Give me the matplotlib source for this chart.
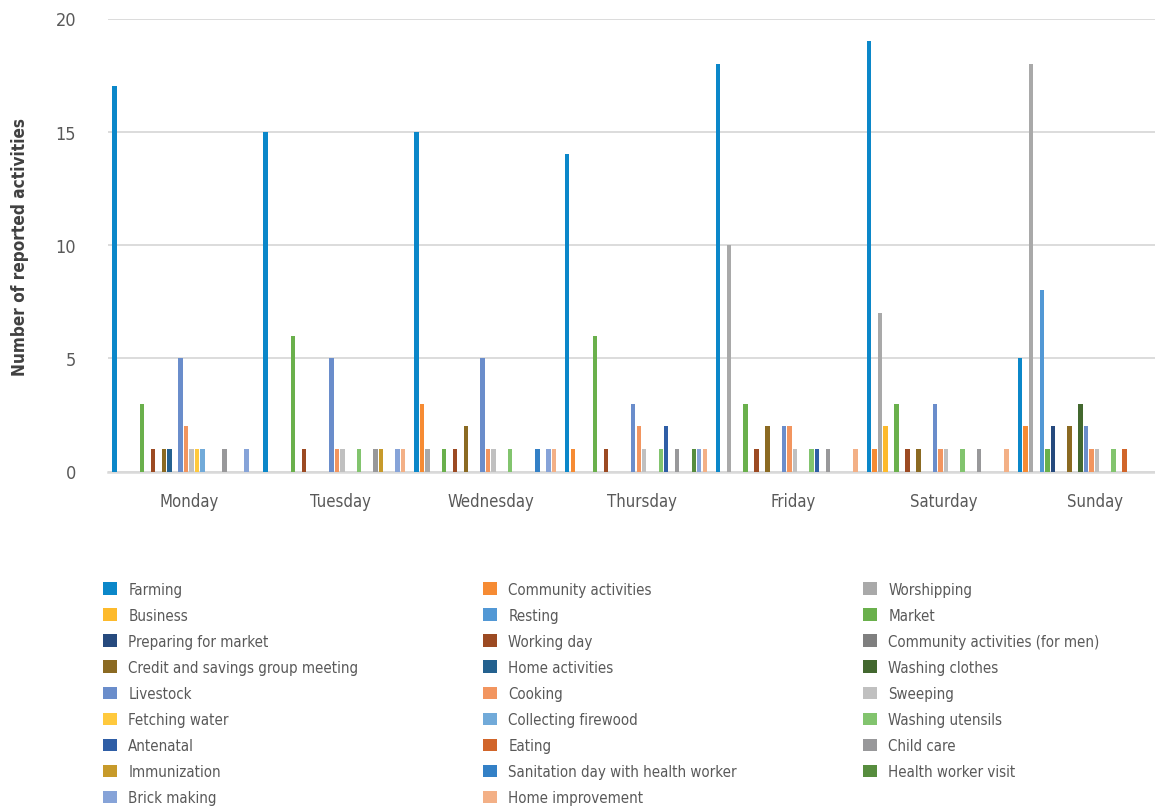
import matplotlib
matplotlib.use('Agg')
import matplotlib.pyplot as plt
import numpy as np

plt.rcParams['font.family'] = ['DejaVu Sans']
plt.rcParams['font.stretch'] = 'condensed'

days = ['Monday', 'Tuesday', 'Wednesday', 'Thursday', 'Friday', 'Saturday', 'Sunday']

farming          = [17, 15, 15, 14, 18, 19, 5]
community        = [0, 0, 3, 1, 0, 1, 2]
worshipping      = [0, 0, 1, 0, 10, 7, 18]
business         = [0, 0, 0, 0, 0, 2, 0]
resting          = [0, 0, 0, 0, 0, 0, 8]
market           = [3, 6, 1, 6, 3, 3, 1]
preparing        = [0, 0, 0, 0, 0, 0, 2]
working_day      = [1, 1, 1, 1, 1, 1, 0]
community_men    = [0, 0, 0, 0, 0, 0, 0]
credit_savings   = [1, 0, 2, 0, 2, 1, 2]
home_activities  = [1, 0, 0, 0, 0, 0, 0]
washing_clothes  = [0, 0, 0, 0, 0, 0, 3]
livestock        = [5, 5, 5, 3, 2, 3, 2]
cooking          = [2, 1, 1, 2, 2, 1, 1]
sweeping         = [1, 1, 1, 1, 1, 1, 1]
fetching_water   = [1, 0, 0, 0, 0, 0, 0]
firewood         = [1, 0, 0, 0, 0, 0, 0]
washing_utensils = [0, 1, 1, 1, 1, 1, 1]
antenatal        = [0, 0, 0, 2, 1, 0, 0]
eating           = [0, 0, 0, 0, 0, 0, 1]
child_care       = [1, 1, 0, 1, 1, 1, 0]
immunization     = [0, 1, 0, 0, 0, 0, 0]
sanitation       = [0, 0, 1, 0, 0, 0, 0]
health_visit     = [0, 0, 0, 1, 0, 0, 0]
brick_making     = [1, 1, 1, 1, 0, 0, 0]
home_improvement = [0, 1, 1, 1, 1, 1, 0]

series = [
    ('Farming', farming, '#0b87c9'),
    ('Community activities', community, '#f68b33'),
    ('Worshipping', worshipping, '#a9a9a9'),
    ('Business', business, '#fdba2c'),
    ('Resting', resting, '#5298d5'),
    ('Market', market, '#6ab04c'),
    ('Preparing for market', preparing, '#264a7e'),
    ('Working day', working_day, '#9c4a22'),
    ('Community activities (for men)', community_men, '#7f7f7f'),
    ('Credit and savings group meeting', credit_savings, '#8b6a22'),
    ('Home activities', home_activities, '#24618f'),
    ('Washing clothes', washing_clothes, '#43682f'),
    ('Livestock', livestock, '#6a8dcb'),
    ('Cooking', cooking, '#f2955f'),
    ('Sweeping', sweeping, '#c0c0c0'),
    ('Fetching water', fetching_water, '#ffc93d'),
    ('Collecting firewood', firewood, '#71aad9'),
    ('Washing utensils', washing_utensils, '#82c46e'),
    ('Antenatal', antenatal, '#2f5ea6'),
    ('Eating', eating, '#d1652a'),
    ('Child care', child_care, '#98989a'),
    ('Immunization', immunization, '#c79a2a'),
    ('Sanitation day with health worker', sanitation, '#3380c6'),
    ('Health worker visit', health_visit, '#578d3e'),
    ('Brick making', brick_making, '#86a3d8'),
    ('Home improvement', home_improvement, '#f3b086'),
]

W, H = 1155, 812
fig = plt.figure(figsize=(W / 100, H / 100), dpi=100)
ax = fig.add_axes([108 / W, 1 - 472.5 / H, 1056 / W, 453 / H])

x = np.arange(len(days))
n = len(series)
slot = 5.5 / 150.9
handles = []
for k, (lab, vals, col) in enumerate(series):
    off = (k - (n - 1) / 2) * slot
    b = ax.bar(x + off, vals, width=slot * 0.8, color=col, label=lab, zorder=3, linewidth=0)
    handles.append(b)

ax.set_xlim(-0.5, len(days) - 0.5)
ax.set_ylim(0, 20)
ax.set_yticks([0, 5, 10, 15, 20])
ax.set_xticks(x + 0.04)
ax.set_xticklabels(days)
for s in ['top', 'right', 'left']:
    ax.spines[s].set_visible(False)
ax.spines['bottom'].set_color('#d9d9d9')
ax.spines['bottom'].set_linewidth(1.8)
ax.yaxis.grid(True, color='#d9d9d9', linewidth=1.3, zorder=0)
ax.set_axisbelow(True)
ax.tick_params(axis='both', length=0, labelsize=12, labelcolor='#595959')
ax.tick_params(axis='y', labelsize=13, pad=23)
ax.tick_params(axis='x', pad=15)

fig.text(20 / W, 1 - 247 / H, 'Number of reported activities', rotation=90,
         ha='center', va='center', fontsize=12.3, fontweight='bold', color='#404040')

# legend: three columns, row-wise order like the original
col_x = [102.7, 482.7, 862.7]
for c in range(3):
    hs = handles[c::3]
    labs = [s[0] for s in series[c::3]]
    leg = fig.legend(hs, labs, loc='upper left',
                     bbox_to_anchor=(col_x[c] / W, 1 - 583 / H),
                     frameon=False, fontsize=10.8, borderpad=0, borderaxespad=0,
                     handlelength=0.94, handleheight=0.94, handletextpad=0.76,
                     labelspacing=0.735, labelcolor='#595959')

fig.savefig('out.png', dpi=100)
